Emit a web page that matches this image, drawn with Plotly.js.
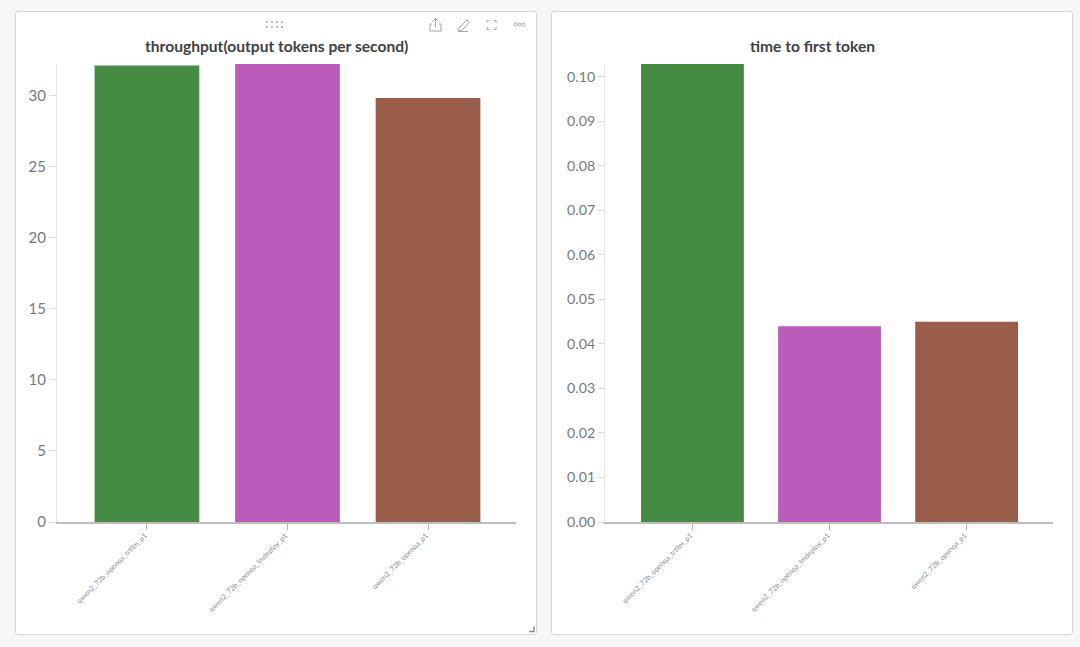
<!DOCTYPE html>
<html><head><meta charset="utf-8">
<script src="https://cdn.plot.ly/plotly-3.0.1.min.js"></script>
<style>
html,body{margin:0;padding:0;background:#f7f7f7;width:1080px;height:647px;overflow:hidden}
.panel{position:absolute;background:#fff;border:1px solid #d6d6d6;border-radius:3px;box-sizing:border-box}
#chart{position:absolute;left:0;top:0;width:1080px;height:647px}
svg.ic{position:absolute;left:0;top:0;pointer-events:none}
</style></head><body>
<div class="panel" style="left:15px;top:11px;width:522px;height:624px"></div>
<div class="panel" style="left:551px;top:11px;width:522px;height:624px"></div>
<div id="chart"></div>
<svg class="ic" width="1080" height="647" fill="none" stroke="#a5a5aa" stroke-width="1">
  <g fill="#9a9aa0" stroke="none">
    <circle cx="267" cy="22" r=".9"/><circle cx="272" cy="22" r=".9"/><circle cx="277" cy="22" r=".9"/><circle cx="282" cy="22" r=".9"/><circle cx="267" cy="27" r=".9"/><circle cx="272" cy="27" r=".9"/><circle cx="277" cy="27" r=".9"/><circle cx="282" cy="27" r=".9"/>
  </g>
  <path d="M432 24h-2v7h11v-7h-2M435.500 27v-8M432.500 21.500l3-3 3 3"/>
  <path d="M459 28l8-8 2.500 2.500-8 8-3 .5zM458 31.500h10"/>
  <path d="M487 23v-2.500h2.500M493.500 20.500h2.500v2.500M496 27v2.500h-2.500M489.500 29.500h-2.500v-2.500"/>
  <circle cx="515.500" cy="24.500" r="1.500"/><circle cx="519.500" cy="24.500" r="1.500"/><circle cx="523.500" cy="24.500" r="1.500"/>
  <path d="M529 631.500h5v-5" stroke="#8c8c8c" stroke-width="1.500"/>
</svg>
<script>
const categories = ["qwen2_72b_openqa_trtllm_p1", "qwen2_72b_openqa_lmdeploy_p1", "qwen2_72b_openqa_p1"];
const throughput = [32.15, 32.4, 29.85];
const ttft = [0.103, 0.044, 0.045];
const barColors = ["#458b44", "#bb5cbb", "#995d49"];
const throughputTitle = "throughput(output tokens per second)";
const ttftTitle = "time to first token";
const W = 1080, H = 647;
const tickFontL = {family: 'Lato, sans-serif', size: 15, color: "#77777f"};
const tickFontR = {family: 'Lato, sans-serif', size: 14.2, color: "#77777f"};
const catFont = {family: 'Lato, sans-serif', size: 7.2, color: "#8c8c93"};
const titleFont = {family: 'Lato, sans-serif', size: 15.6, color: "#3f4045", weight: 700};
function xaxis(x0, x1, range, anchor){
  return {domain:[x0/W, x1/W], range, anchor, type:"linear", tickmode:"array", tickvals:[0,1,2], ticktext:categories,
    tickangle:-45, tickfont:catFont, ticks:"outside", ticklen:6, tickcolor:"#b5b5b5", tickwidth:1,
    ticklabelshift:-2, ticklabelstandoff:-1,
    showline:true, linecolor:"#bdbdbd", linewidth:1.500, showgrid:false, zeroline:false, fixedrange:true};
}
function yaxis(range, dtick, fmt, anchor, font, len){
  return {domain:[(H-522)/H, (H-64)/H], range, dtick, tick0:0, tickformat:fmt, anchor, tickfont:font,
    ticks:"outside", ticklen:len, tickcolor:"#d9d9d9", tickwidth:1, showline:true, linecolor:"#e8e8e8", linewidth:1,
    showgrid:false, zeroline:false, fixedrange:true};
}
const data = [
  {type:"bar", x:[0,1,2], y:throughput, width:0.745, marker:{color:barColors}, xaxis:"x", yaxis:"y", hoverinfo:"skip"},
  {type:"bar", x:[0,1,2], y:ttft, width:0.75, marker:{color:barColors}, xaxis:"x2", yaxis:"y2", hoverinfo:"skip"}
];
const layout = {
  width:W, height:H, margin:{l:0,r:0,t:0,b:0}, paper_bgcolor:"rgba(0,0,0,0)", plot_bgcolor:"rgba(0,0,0,0)",
  showlegend:false, font:{family:'Lato, sans-serif'},
  xaxis:xaxis(57, 516, [-0.64, 2.626], "y"),
  yaxis:yaxis([0, 32.25], 5, "d", "x", tickFontL, 7),
  xaxis2:xaxis(605, 1053, [-0.638, 2.63], "y2"),
  yaxis2:yaxis([0, 0.1029], 0.01, ".2f", "x2", tickFontR, 6),
  annotations:[
    {xref:"paper", yref:"paper", x:276/W, y:(H-45.5)/H, text:"<b>"+throughputTitle+"</b>", showarrow:false, font:titleFont, xanchor:"center", yanchor:"middle"},
    {xref:"paper", yref:"paper", x:812/W, y:(H-45.5)/H, text:"<b>"+ttftTitle+"</b>", showarrow:false, font:titleFont, xanchor:"center", yanchor:"middle"}
  ]
};
Plotly.newPlot("chart", data, layout, {displayModeBar:false, staticPlot:true});
</script></body></html>
